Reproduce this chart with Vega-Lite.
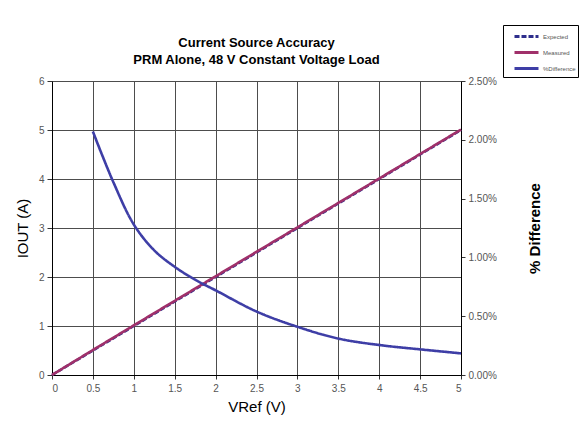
{
  "$schema": "https://vega.github.io/schema/vega-lite/v6.json",
  "width": 409,
  "height": 294,
  "autosize": {"type": "none"},
  "padding": {"left": 52, "top": 81, "right": 127, "bottom": 59},
  "background": "white",
  "config": {
    "font": "Liberation Sans",
    "view": {"stroke": null},
    "axis": {"labelFont": "Liberation Sans", "titleFont": "Liberation Sans"}
  },
  "title": {
    "text": ["Current Source Accuracy", "PRM Alone, 48 V Constant Voltage Load"],
    "fontSize": 13,
    "fontWeight": "bold",
    "color": "black",
    "anchor": "middle",
    "frame": "group",
    "offset": -42,
    "lineHeight": 17
  },
  "data": {
    "values": [
      {"v": 0, "series": "Expected", "value": 0},
      {"v": 0.5, "series": "Expected", "value": 0.5},
      {"v": 1, "series": "Expected", "value": 1},
      {"v": 1.5, "series": "Expected", "value": 1.5},
      {"v": 2, "series": "Expected", "value": 2},
      {"v": 2.5, "series": "Expected", "value": 2.5},
      {"v": 3, "series": "Expected", "value": 3},
      {"v": 3.5, "series": "Expected", "value": 3.5},
      {"v": 4, "series": "Expected", "value": 4},
      {"v": 4.5, "series": "Expected", "value": 4.5},
      {"v": 5, "series": "Expected", "value": 5},
      {"v": 0, "series": "Measured", "value": 0},
      {"v": 0.5, "series": "Measured", "value": 0.5103},
      {"v": 1, "series": "Measured", "value": 1.0128},
      {"v": 1.5, "series": "Measured", "value": 1.5138},
      {"v": 2, "series": "Measured", "value": 2.0144},
      {"v": 2.5, "series": "Measured", "value": 2.5135},
      {"v": 3, "series": "Measured", "value": 3.0123},
      {"v": 3.5, "series": "Measured", "value": 3.511},
      {"v": 4, "series": "Measured", "value": 4.0102},
      {"v": 4.5, "series": "Measured", "value": 4.5098},
      {"v": 5, "series": "Measured", "value": 5.0092},
      {"v": 0.5, "series": "%Difference", "value": 0.0207},
      {"v": 0.75, "series": "%Difference", "value": 0.0164},
      {"v": 1, "series": "%Difference", "value": 0.0128},
      {"v": 1.25, "series": "%Difference", "value": 0.0106},
      {"v": 1.5, "series": "%Difference", "value": 0.0092},
      {"v": 1.75, "series": "%Difference", "value": 0.0081},
      {"v": 2, "series": "%Difference", "value": 0.0072},
      {"v": 2.5, "series": "%Difference", "value": 0.0054},
      {"v": 3, "series": "%Difference", "value": 0.0041},
      {"v": 3.5, "series": "%Difference", "value": 0.0031},
      {"v": 4, "series": "%Difference", "value": 0.00255},
      {"v": 4.5, "series": "%Difference", "value": 0.00218},
      {"v": 5, "series": "%Difference", "value": 0.00184}
    ]
  },
  "encoding": {
    "x": {
      "field": "v",
      "type": "quantitative",
      "scale": {"domain": [0, 5], "nice": false, "zero": true},
      "axis": {
        "title": "VRef (V)",
        "titleFontSize": 15,
        "titleFontWeight": "normal",
        "titleColor": "black",
        "titlePadding": 6,
        "values": [0, 0.5, 1, 1.5, 2, 2.5, 3, 3.5, 4, 4.5, 5],
        "format": ".2~f",
        "labelFontSize": 10,
        "labelColor": "#555555",
        "labelPadding": 4,
        "domainColor": "black",
        "tickColor": "#333333",
        "tickSize": 4,
        "gridColor": "#4d4d4d",
        "gridOpacity": 1,
        "gridWidth": 1
      }
    },
    "color": {
      "field": "series",
      "type": "nominal",
      "scale": {"domain": ["Expected", "Measured", "%Difference"], "range": ["#2e2e8c", "#a0306a", "#3e3ea6"]},
      "legend": {
        "title": null,
        "orient": "none",
        "legendX": 451,
        "legendY": -56,
        "symbolType": "M0,0H3",
        "symbolSize": 256,
        "symbolStrokeWidth": 3,
        "labelFontSize": 6,
        "labelColor": "#555555",
        "labelLimit": 60,
        "rowPadding": 0,
        "padding": 2,
        "strokeColor": "black",
        "fillColor": "white",
        "labelOffset": 19
      }
    },
    "strokeDash": {
      "field": "series",
      "type": "nominal",
      "scale": {"domain": ["Expected", "Measured", "%Difference"], "range": [[5, 2], [1, 0], [1, 0]]},
      "legend": {
        "title": null,
        "orient": "none",
        "legendX": 451,
        "legendY": -56,
        "symbolType": "M0,0H3",
        "symbolSize": 256,
        "symbolStrokeWidth": 3,
        "labelFontSize": 6,
        "labelColor": "#555555",
        "labelLimit": 60,
        "rowPadding": 0,
        "padding": 2,
        "strokeColor": "black",
        "fillColor": "white",
        "labelOffset": 19
      }
    }
  },
  "layer": [
    {
      "transform": [{"filter": "datum.series !== '%Difference'"}],
      "mark": {"type": "line", "strokeWidth": 2.6},
      "encoding": {
        "y": {
          "field": "value",
          "type": "quantitative",
          "scale": {"domain": [0, 6], "nice": false},
          "axis": {
            "title": "IOUT (A)",
            "titleFontSize": 15,
            "titleFontWeight": "normal",
            "titleColor": "black",
            "titlePadding": 8,
            "values": [0, 1, 2, 3, 4, 5, 6],
            "labelFontSize": 10,
            "labelColor": "#555555",
            "labelPadding": 3,
            "domainColor": "black",
            "tickColor": "#333333",
            "tickSize": 5,
            "gridColor": "#4d4d4d",
            "gridOpacity": 1,
            "gridWidth": 1
          }
        },
        "order": {"field": "series", "sort": "ascending"}
      }
    },
    {
      "transform": [{"filter": "datum.series === '%Difference'"}],
      "mark": {"type": "line", "strokeWidth": 2.6, "interpolate": "catmull-rom"},
      "encoding": {
        "y": {
          "field": "value",
          "type": "quantitative",
          "scale": {"domain": [0, 0.025], "nice": false},
          "axis": {
            "orient": "right",
            "title": "% Difference",
            "titleAngle": 270,
            "titleFontSize": 15,
            "titleFontWeight": "bold",
            "titleColor": "black",
            "titlePadding": 46,
            "values": [0, 0.005, 0.01, 0.015, 0.02, 0.025],
            "format": ".2%",
            "labelFontSize": 10,
            "labelColor": "#555555",
            "labelPadding": 3,
            "domainColor": "black",
            "tickColor": "#333333",
            "tickSize": 4,
            "grid": false
          }
        }
      }
    }
  ],
  "resolve": {"scale": {"y": "independent"}}
}
